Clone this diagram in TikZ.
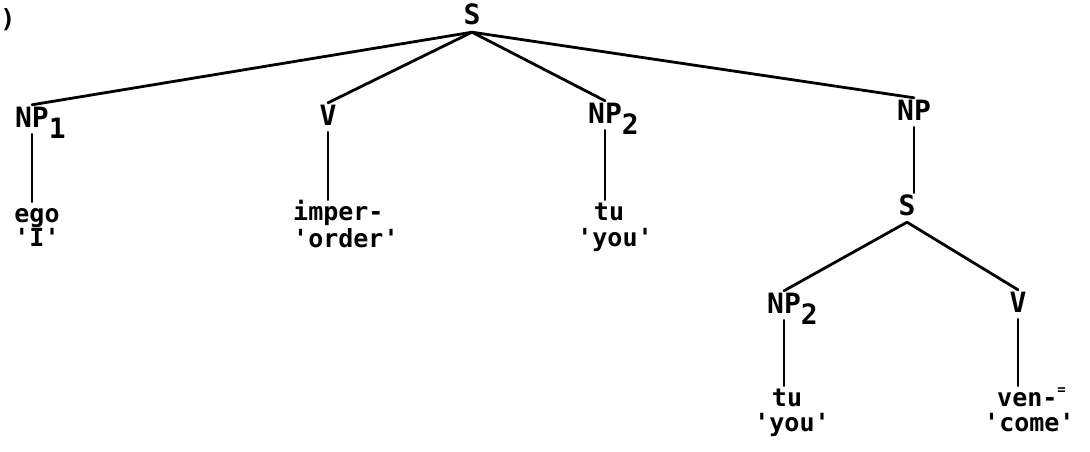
\documentclass[tikz,border=0pt]{standalone}
\usepackage{fontspec}
\newfontfamily\tw{DejaVu Sans Mono}
\newcommand\gl[1]{\textquotesingle#1\textquotesingle}
\newcommand\sub[1]{\rlap{\raisebox{-0.4em}{#1}}}

\begin{document}
\begin{tikzpicture}[x=1pt,y=-1pt,
	lab/.style={inner sep=1pt,anchor=base,text height=21pt,text depth=6pt,font=\tw\bfseries\fontsize{28}{30}\selectfont},
	leaf/.style={lab,inner sep=2pt,text height=18pt,font=\tw\bfseries\fontsize{25}{27}\selectfont},
	branch/.style={line width=2.8pt,line cap=round}]
	\useasboundingbox (0,0) rectangle (1090,452);
	\node[leaf] (paren) at (8,28) {)};
	% upper S
	\node[lab] (s) at (472,25) {S};
	\node[lab] (np1) at (32,127) {NP\sub{1}};
	\node[lab] (v) at (328,125) {V};
	\node[lab] (np2) at (605,123) {NP\sub{2}};
	\node[lab] (np) at (914,120) {NP};
	% embedded S
	\node[lab] (s2) at (907,215) {S};
	\node[lab] (np3) at (784,313) {NP\sub{2}};
	\node[lab] (v2) at (1018,312) {V};
	% words and glosses
	\node[leaf] (ego) at (37,222) {ego};
	\node[leaf] (egogl) at (37,246) {\gl{I}};
	\node[leaf,anchor=base west] (imper) at (291,220) {imper-};
	\node[leaf,anchor=base west] (impergl) at (291,247) {\gl{order}};
	\node[leaf] (tu) at (609,220) {tu};
	\node[leaf] (tugl) at (615,246) {\gl{you}};
	\node[leaf] (tu2) at (787,406) {tu};
	\node[leaf] (tu2gl) at (792,431) {\gl{you}};
	\node[leaf,anchor=base west] (ven) at (995,406) {ven-\raisebox{0.45em}{\fontsize{14}{14}\selectfont =}};
	\node[leaf,anchor=base west] (vengl) at (982,431) {\gl{come}};
	\foreach \c in {np1,v,np2,np} \draw[branch] (s.south) -- (\c.north);
	\foreach \c in {np3,v2} \draw[branch] (s2.south) -- (\c.north);
	\foreach \p/\c in {np1/ego,v/imper,np2/tu,np/s2,np3/tu2,v2/ven}
		\draw[branch] (\p.south) -- (\p.south |- \c.north);
\end{tikzpicture}
\end{document}
